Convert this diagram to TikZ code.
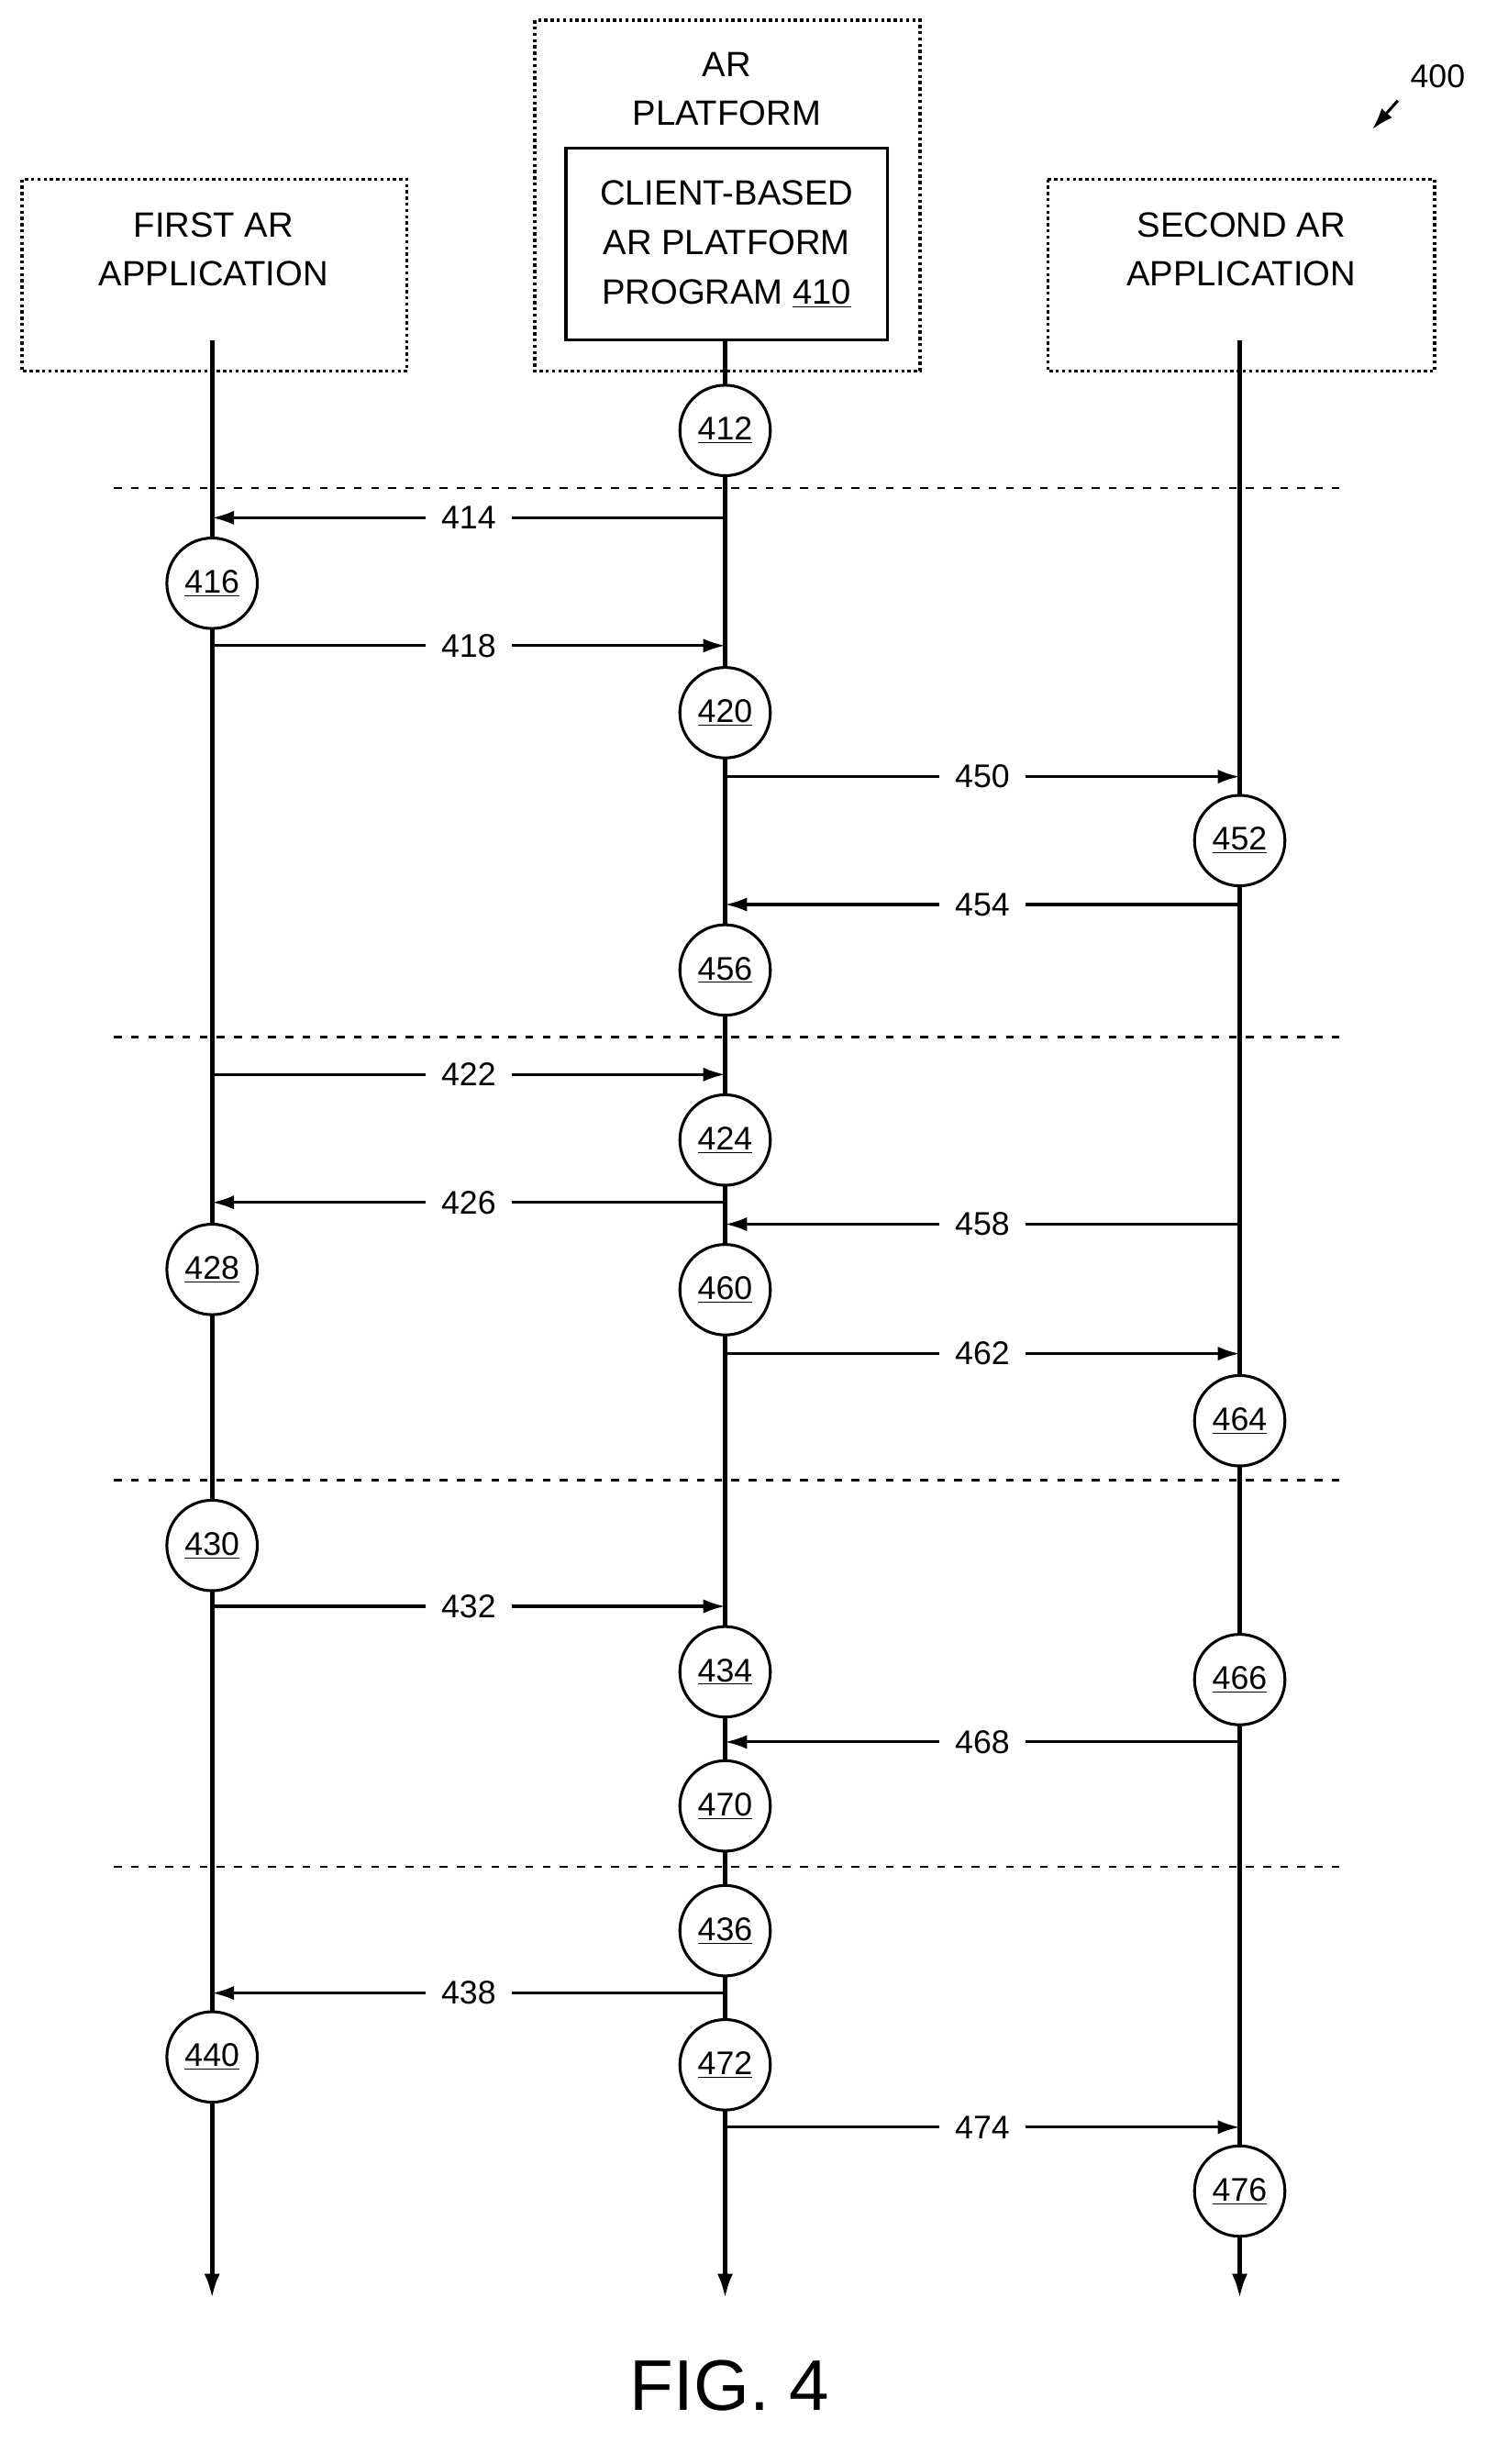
\documentclass[tikz,border=0pt]{standalone}
\usepackage{fontspec}
\setmainfont{Liberation Sans}
\usetikzlibrary{arrows.meta}
\tikzset{every picture/.style={line width=1.5pt},
  stage/.style={draw,circle,fill=white,minimum size=58pt,inner sep=0pt,line width=1.8pt,font=\fontsize{21}{26}\selectfont},
  lane/.style={line width=3pt,-{Latex[length=16pt,width=10pt]}},
  msg/.style={line width=1.8pt,-{Latex[length=14pt,width=9pt]}},
  tag/.style={fill=white,inner xsep=10pt,font=\fontsize{21}{26}\selectfont},
  hdr/.style={draw,dotted,line width=2pt},
  sep/.style={dashed,line width=1.5pt,dash pattern=on 5pt off 6pt}}
\begin{document}
\begin{tikzpicture}[x=1pt,y=1pt,yscale=-1,xscale=1]
	\useasboundingbox (0,0) rectangle (960,1580);
	
	%headers
	\draw[hdr] (14,115) rectangle (261,238);
	\draw[hdr] (343,13) rectangle (590,238);
	\draw[hdr] (672,115) rectangle (920,238);
	\node[draw,line width=2pt,minimum width=206pt,minimum height=123pt,inner sep=0pt,align=center,font=\fontsize{22.5}{32}\selectfont] (prog) at (466,156.5) {CLIENT-BASED\\AR PLATFORM\\PROGRAM \underline{410}};
	\node[align=center,font=\fontsize{22.5}{31}\selectfont] (plat) at (466,57) {AR\\PLATFORM};
	\node[align=center,font=\fontsize{22.5}{31}\selectfont] (first) at (137,160) {FIRST AR\\APPLICATION};
	\node[align=center,font=\fontsize{22.5}{31}\selectfont] (second) at (796,160) {SECOND AR\\APPLICATION};
	
	%lifelines
	\coordinate (lt) at (136,218); \coordinate (lb) at (136,1474);
	\coordinate (mt) at (465,218); \coordinate (mb) at (465,1474);
	\coordinate (rt) at (795,218); \coordinate (rb) at (795,1474);
	\draw[lane] (lt) -- (lb);
	\draw[lane] (mt) -- (mb);
	\draw[lane] (rt) -- (rb);
	
	%separators
	\foreach \y in {313,665,949,1197}
		\draw[sep] (73,\y) -- (860,\y);
	
	%stages
	\foreach \n/\x/\y in {412/465/276,416/136/374,420/465/457,452/795/539,456/465/622,424/465/731,428/136/814,460/465/827,464/795/911,430/136/991,434/465/1072,466/795/1077,470/465/1158,436/465/1238,440/136/1319,472/465/1324,476/795/1405}
		\node[stage] (s\n) at (\x,\y) {\underline{\n}};
	
	%messages
	\foreach \n/\y/\a/\b in {414/332/m/l,418/414/l/m,450/498/m/r,454/580/r/m,422/689/l/m,426/771/m/l,458/785/r/m,462/868/m/r,432/1030/l/m,468/1117/r/m,438/1278/m/l,474/1364/m/r}{
		\coordinate (l\n) at (136,\y);
		\coordinate (m\n) at (465,\y);
		\coordinate (r\n) at (795,\y);
		\draw[msg] (\a\n) -- node[tag] {\n} (\b\n);
	}
	
	%figure label
	\node[font=\fontsize{21}{26}\selectfont] (ref) at (922,49) {400};
	\coordinate (refend) at (880,83);
	\draw[msg] (ref.south west) ++(-4,4) -- (refend);
	\node[font=\fontsize{46}{56}\selectfont] (fig) at (468,1530) {FIG. 4};
	
\end{tikzpicture}
\end{document}
